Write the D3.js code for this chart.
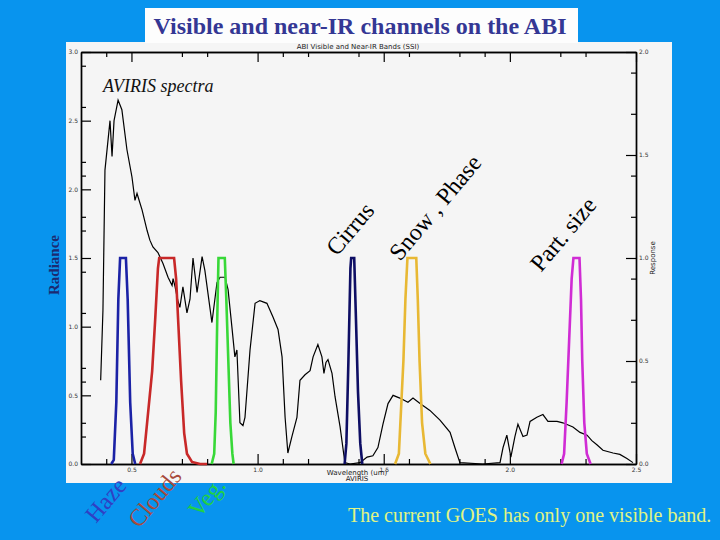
<!DOCTYPE html>
<html>
<head>
<meta charset="utf-8">
<script src="https://cdn.jsdelivr.net/npm/d3@7"></script>
<style>
  body { margin: 0; background: #0894ee; }
  svg { display: block; }
</style>
</head>
<body>
<svg width="720" height="540"></svg>
<script>
// AVIRIS radiance spectrum (left axis)
const specWl  = [0.378,0.387,0.395,0.415,0.423,0.431,0.447,0.462,0.482,0.502,0.514,0.522,0.542,0.562,0.573,0.585,0.605,0.625,0.645,0.661,0.665,0.673,0.684,0.692,0.704,0.720,0.732,0.744,0.760,0.780,0.791,0.819,0.839,0.851,0.871,0.883,0.898,0.910,0.918,0.930,0.942,0.950,0.970,0.990,1.009,1.037,1.061,1.081,1.097,1.109,1.120,1.136,1.156,1.168,1.188,1.208,1.220,1.239,1.255,1.263,1.271,1.279,1.295,1.307,1.327,1.346,1.366,1.406,1.434,1.457,1.477,1.497,1.517,1.537,1.564,1.596,1.616,1.644,1.683,1.723,1.763,1.782,1.802,1.893,1.961,1.973,1.988,2.004,2.020,2.032,2.052,2.068,2.080,2.107,2.131,2.151,2.187,2.210,2.250,2.278,2.306,2.325,2.345,2.369,2.409,2.436,2.464,2.488];
const specRad = [0.61,1.12,2.14,2.50,2.24,2.50,2.65,2.58,2.29,2.09,1.92,1.97,1.85,1.70,1.63,1.58,1.54,1.46,1.36,1.30,1.35,1.29,1.19,1.14,1.29,1.10,1.20,1.50,1.25,1.51,1.41,1.03,1.32,1.36,1.36,1.27,1.00,0.78,0.83,0.30,0.28,0.34,0.83,1.17,1.19,1.17,1.07,0.98,0.78,0.34,0.08,0.20,0.34,0.61,0.65,0.68,0.78,0.87,0.78,0.66,0.74,0.76,0.66,0.49,0.27,0.01,0.00,0.01,0.05,0.06,0.12,0.29,0.44,0.50,0.48,0.45,0.48,0.44,0.39,0.32,0.23,0.12,0.01,0.00,0.01,0.12,0.21,0.05,0.20,0.29,0.20,0.21,0.31,0.34,0.36,0.31,0.31,0.30,0.27,0.23,0.21,0.17,0.14,0.10,0.08,0.07,0.04,0.01];

// ABI band spectral response functions (right axis)
const hazeWl    = [0.420,0.430,0.440,0.448,0.455,0.478,0.485,0.495,0.505,0.515];
const hazeResp  = [0,0.02,0.30,0.80,1,1,0.80,0.30,0.05,0];
const cloudWl   = [0.534,0.550,0.562,0.582,0.594,0.605,0.610,0.669,0.677,0.685,0.697,0.709,0.720,0.740,0.772,0.800];
const cloudResp = [0,0.05,0.20,0.45,0.70,0.95,1,1,0.90,0.70,0.40,0.15,0.05,0.01,0,0];
const vegWl     = [0.818,0.828,0.834,0.840,0.845,0.870,0.876,0.884,0.892,0.900,0.905];
const vegResp   = [0,0.05,0.25,0.70,1,1,0.80,0.50,0.20,0.05,0];
const cirrusWl  = [1.345,1.352,1.360,1.368,1.371,1.383,1.390,1.398,1.407,1.415];
const cirrusResp= [0,0.10,0.50,0.95,1,1,0.70,0.35,0.10,0];
const snowWl    = [1.545,1.560,1.570,1.578,1.586,1.594,1.629,1.635,1.642,1.652,1.665,1.685];
const snowResp  = [0,0.05,0.30,0.50,0.80,1,1,0.80,0.50,0.20,0.05,0];
const partWl    = [2.205,2.215,2.225,2.235,2.245,2.252,2.276,2.282,2.287,2.295,2.305,2.320];
const partResp  = [0,0.05,0.30,0.60,0.90,1,1,0.80,0.50,0.20,0.05,0];

// tick values
const xMajor = [0.5,1.0,1.5,2.0,2.5];
const xMinor = [0.4,0.7,0.8,1.1,1.2,1.4,1.6,1.8,1.9,2.2,2.3];
const leftMajor = [0,0.5,1.0,1.5,2.0,2.5,3.0];
const leftMinor = [0.2,0.3,0.6,0.7,1.1,1.4,1.7,1.8,2.1,2.2,2.6,2.9];
const rightMajor = [0,0.5,1.0,1.5,2.0];
const rightMinor = [0.2,0.4,0.7,0.9,1.2,1.4,1.7,1.9];

const svg = d3.select("svg");

// white panel + title box
svg.append("rect").attr("x", 66).attr("y", 42).attr("width", 606).attr("height", 441).attr("fill", "#f5f5f5");
svg.append("rect").attr("x", 145).attr("y", 8).attr("width", 433).attr("height", 35).attr("fill", "#fdfdfd");
svg.append("text").attr("x", 360).attr("y", 34).attr("text-anchor", "middle")
    .attr("font-family", "Liberation Serif").attr("font-weight", "bold").attr("font-size", 24)
    .attr("fill", "#343794").text("Visible and near-IR channels on the ABI");

const x = d3.scaleLinear().domain([0.3, 2.5]).range([81, 636]);
const yL = d3.scaleLinear().domain([0, 3]).range([464, 52]);
const yR = d3.scaleLinear().domain([0, 2]).range([464, 52]);

function styleAxis(g) {
    g.selectAll("path").attr("stroke", "#000").attr("stroke-width", 1.4);
    g.selectAll("line").attr("stroke", "#000").attr("stroke-width", 1.2);
    g.selectAll("text").attr("font-family", "DejaVu Sans").attr("font-size", 6).attr("fill", "#333");
}
const fmt = d3.format(".1f");

svg.append("g").attr("transform", "translate(0,464)")
    .call(d3.axisBottom(x).tickValues(xMajor).tickSizeInner(-10).tickSizeOuter(0).tickPadding(4).tickFormat(fmt)).call(styleAxis);
svg.append("g").attr("transform", "translate(0,464)")
    .call(d3.axisBottom(x).tickValues(xMinor).tickSizeInner(-5).tickSizeOuter(0).tickFormat("")).call(styleAxis);
svg.append("g").attr("transform", "translate(0,52)")
    .call(d3.axisTop(x).tickValues(xMajor).tickSizeInner(-10).tickSizeOuter(0).tickFormat("")).call(styleAxis);
svg.append("g").attr("transform", "translate(0,52)")
    .call(d3.axisTop(x).tickValues(xMinor).tickSizeInner(-5).tickSizeOuter(0).tickFormat("")).call(styleAxis);
svg.append("g").attr("transform", "translate(81,0)")
    .call(d3.axisLeft(yL).tickValues(leftMajor).tickSizeInner(-10).tickSizeOuter(0).tickPadding(3).tickFormat(fmt)).call(styleAxis);
svg.append("g").attr("transform", "translate(81,0)")
    .call(d3.axisLeft(yL).tickValues(leftMinor).tickSizeInner(-5).tickSizeOuter(0).tickFormat("")).call(styleAxis);
svg.append("g").attr("transform", "translate(636,0)")
    .call(d3.axisRight(yR).tickValues(rightMajor).tickSizeInner(-10).tickSizeOuter(0).tickPadding(3).tickFormat(fmt)).call(styleAxis);
svg.append("g").attr("transform", "translate(636,0)")
    .call(d3.axisRight(yR).tickValues(rightMinor).tickSizeInner(-5).tickSizeOuter(0).tickFormat("")).call(styleAxis);

// tiny axis titles
const tiny = { "font-family": "DejaVu Sans", "font-size": 7, "fill": "#222" };
function tinyText(t, px, py, rot) {
    const el = svg.append("text").attr("text-anchor", "middle")
        .attr("transform", `translate(${px},${py}) rotate(${rot})`).text(t);
    Object.entries(tiny).forEach(([k, v]) => el.attr(k, v));
}
tinyText("ABI Visible and Near-IR Bands (SSI)", 358, 49, 0);
tinyText("Wavelength (um)", 357, 475, 0);
tinyText("AVIRIS", 357, 481, 0);
tinyText("Response", 655, 258, -90);

svg.append("text").attr("transform", "translate(59,265) rotate(-90)").attr("text-anchor", "middle")
    .attr("font-family", "Liberation Serif").attr("font-weight", "bold").attr("font-size", 15)
    .attr("fill", "#1c2a70").text("Radiance");

// curves
const line = d3.line().x(d => d[0]).y(d => d[1]);
svg.append("path")
    .attr("d", line(specWl.map((w, i) => [x(w), yL(specRad[i])])))
    .attr("fill", "none").attr("stroke", "#000").attr("stroke-width", 1.2);

const bands = [
    [hazeWl, hazeResp, "#1b22a6"],
    [cloudWl, cloudResp, "#c82828"],
    [vegWl, vegResp, "#38d838"],
    [cirrusWl, cirrusResp, "#0e0e64"],
    [snowWl, snowResp, "#e8b834"],
    [partWl, partResp, "#d02cd4"]
];
bands.forEach(([wl, r, c]) => {
    svg.append("path")
        .attr("d", line(wl.map((w, i) => [x(w), yR(r[i])])))
        .attr("fill", "none").attr("stroke", c).attr("stroke-width", 2.6);
});

svg.append("text").attr("x", 103).attr("y", 92)
    .attr("font-family", "Liberation Serif").attr("font-style", "italic").attr("font-size", 18)
    .attr("fill", "#111").text("AVIRIS spectra");

// rotated band labels
const labels = [
    ["Cirrus", 337, 257, "#000"],
    ["Snow , Phase", 400, 262, "#000"],
    ["Part. size", 541, 273, "#000"],
    ["Haze", 96, 524, "#3040c4"],
    ["Clouds", 139, 529, "#a84a3c"],
    ["Veg.", 199, 519, "#22d044"]
];
labels.forEach(([t, px, py, c]) => {
    svg.append("text").attr("transform", `translate(${px},${py}) rotate(-50)`)
        .attr("font-family", "Liberation Serif").attr("font-size", 24).attr("fill", c).text(t);
});

svg.append("text").attr("x", 348).attr("y", 522)
    .attr("font-family", "Liberation Serif").attr("font-size", 20).attr("fill", "#e0f484")
    .text("The current GOES has only one visible band.");
</script>
</body>
</html>
